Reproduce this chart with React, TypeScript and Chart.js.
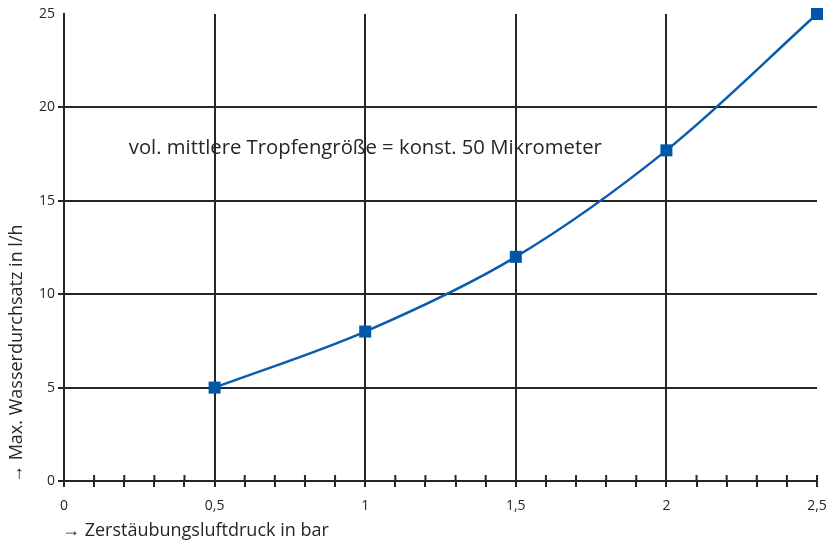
import React, { useEffect, useRef } from "react";
import { Chart, registerables } from "chart.js";

Chart.register(...registerables);

const pressureBar = [0.5, 1, 1.5, 2, 2.5];
const waterFlow = [5, 8, 12, 17.7, 25];
const xTitle = "→ Zerstäubungsluftdruck in bar";
const yTitle = "→ Max. Wasserdurchsatz in l/h";
const note = "vol. mittlere Tropfengröße = konst. 50 Mikrometer";
const noteAt = { x: 0.215, y: 17.8 };

const FONT = "'Open Sans', 'Noto Sans', sans-serif";
const INK = "#262626";
const BLUE = "#0a5cad";

const isMajor = (v: number) => Math.abs(v * 2 - Math.round(v * 2)) < 1e-6;
const fmt = (v: number) => String(Math.round(v * 10) / 10).replace(".", ",");

const decorPlugin = {
  id: "decor",
  afterDraw(chart: any) {
    const { ctx, chartArea, scales } = chart;
    const x = scales.x;
    const y = scales.y;
    ctx.save();
    ctx.strokeStyle = INK;
    ctx.lineWidth = 2;
    for (let i = 1; i <= 25; i++) {
      const v = i / 10;
      if (isMajor(v) && v < 2.5) continue;
      const px = x.getPixelForValue(v);
      ctx.beginPath();
      ctx.moveTo(px, chartArea.bottom);
      ctx.lineTo(px, chartArea.bottom - 6);
      ctx.stroke();
    }
    ctx.fillStyle = INK;
    ctx.font = `20.3px ${FONT}`;
    ctx.textBaseline = "middle";
    ctx.textAlign = "left";
    ctx.fillText(note, x.getPixelForValue(noteAt.x), y.getPixelForValue(noteAt.y));
    ctx.font = `18px ${FONT}`;
    ctx.fillText(xTitle, chartArea.left - 2, chartArea.bottom + 50);
    ctx.translate(17, chartArea.bottom + 2);
    ctx.rotate(-Math.PI / 2);
    ctx.fillText(yTitle, 0, 0);
    ctx.restore();
  },
};

export default function App() {
  const ref = useRef<HTMLCanvasElement>(null);
  useEffect(() => {
    if (!ref.current) return;
    const chart = new Chart(ref.current, {
      type: "line",
      data: {
        datasets: [
          {
            data: pressureBar.map((p, i) => ({ x: p, y: waterFlow[i] })),
            borderColor: BLUE,
            backgroundColor: "#0057a8",
            borderWidth: 2.5,
            pointStyle: "rect",
            pointRadius: 8.5,
            pointHoverRadius: 8.5,
            pointBorderWidth: 0,
            tension: 0.33,
            clip: false as any,
          },
        ],
      },
      options: {
        responsive: false,
        animation: false,
        layout: { padding: { top: 14, right: 13, left: 0, bottom: 0 } },
        plugins: { legend: { display: false }, tooltip: { enabled: false } },
        scales: {
          x: {
            type: "linear",
            min: 0,
            max: 2.5,
            afterFit: (s: any) => {
              s.height = 63;
              s.paddingLeft = 0;
              s.paddingRight = 0;
            },
            afterBuildTicks: (s: any) => {
              s.ticks = Array.from({ length: 26 }, (_, i) => ({ value: i / 10 }));
            },
            border: { color: INK, width: 2 },
            grid: {
              color: (c: any) =>
                c.tick && isMajor(c.tick.value) && c.tick.value > 0 && c.tick.value < 2.5 ? INK : "rgba(0,0,0,0)",
              tickColor: INK,
              lineWidth: 2,
              tickWidth: 2,
              tickLength: 6,
            },
            ticks: {
              autoSkip: false,
              maxRotation: 0,
              padding: 11,
              color: INK,
              font: { family: FONT, size: 14 },
              callback: (v: any) => (isMajor(Number(v)) ? fmt(Number(v)) : ""),
            },
          },
          y: {
            type: "linear",
            min: 0,
            max: 25,
            afterFit: (s: any) => {
              s.width = 64;
              s.paddingTop = 0;
              s.paddingBottom = 0;
            },
            border: { color: INK, width: 2 },
            grid: {
              color: (c: any) => (c.tick && c.tick.value > 0 && c.tick.value < 25 ? INK : "rgba(0,0,0,0)"),
              tickColor: (c: any) => (c.tick && c.tick.value < 25 ? INK : "rgba(0,0,0,0)"),
              lineWidth: 2,
              tickWidth: 2,
              tickLength: 6,
            },
            ticks: {
              stepSize: 5,
              padding: 3,
              color: INK,
              font: { family: FONT, size: 14 },
            },
          },
        },
      },
      plugins: [decorPlugin],
    });
    return () => chart.destroy();
  }, []);
  return (
    <div style={{ position: "fixed", left: 0, top: 0, width: 830, height: 544, background: "#fff" }}>
      <canvas ref={ref} width={830} height={544} style={{ width: 830, height: 544 }} />
    </div>
  );
}
